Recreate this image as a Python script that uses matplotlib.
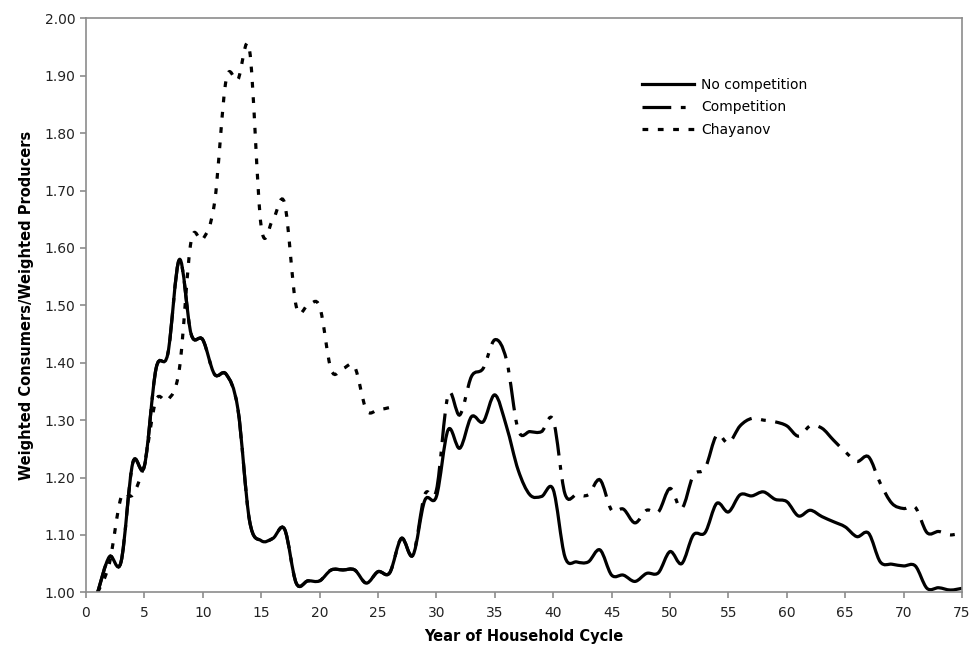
import matplotlib
matplotlib.use("Agg")
import matplotlib.pyplot as plt
import numpy as np
from matplotlib.path import Path
from matplotlib.patches import PathPatch
from matplotlib.lines import Line2D

# years of the household cycle
years = list(range(1, 76))

no_competition = [1.00, 1.062, 1.053, 1.225, 1.22, 1.39, 1.415, 1.58, 1.45, 1.44,
                  1.38, 1.38, 1.32, 1.125, 1.09, 1.094, 1.11, 1.016, 1.02, 1.02,
                  1.039, 1.039, 1.039, 1.016, 1.036, 1.034, 1.094, 1.065, 1.16, 1.167,
                  1.283, 1.251, 1.306, 1.297, 1.344, 1.289, 1.213, 1.17, 1.167, 1.179,
                  1.062, 1.053, 1.053, 1.074, 1.03, 1.03, 1.019, 1.033, 1.034, 1.071,
                  1.05, 1.10, 1.104, 1.155, 1.14, 1.17, 1.168, 1.175, 1.162, 1.158,
                  1.133, 1.143, 1.132, 1.123, 1.114, 1.097, 1.103, 1.053, 1.049, 1.046,
                  1.046, 1.007, 1.008, 1.004, 1.007]

competition = [1.00, 1.062, 1.053, 1.225, 1.22, 1.39, 1.415, 1.58, 1.45, 1.44,
               1.38, 1.38, 1.32, 1.125, 1.09, 1.094, 1.11, 1.016, 1.02, 1.02,
               1.039, 1.039, 1.039, 1.016, 1.036, 1.034, 1.094, 1.065, 1.17, 1.178,
               1.344, 1.309, 1.376, 1.39, 1.44, 1.405, 1.283, 1.28, 1.28, 1.30,
               1.172, 1.17, 1.17, 1.196, 1.143, 1.145, 1.121, 1.143, 1.14, 1.181,
               1.146, 1.204, 1.216, 1.274, 1.26, 1.29, 1.303, 1.30, 1.297, 1.29,
               1.272, 1.29, 1.286, 1.265, 1.245, 1.228, 1.236, 1.19, 1.155, 1.146,
               1.148, 1.104, 1.106, 1.10, 1.104]

chayanov_years = list(range(1, 27))
chayanov = [1.00, 1.05, 1.165, 1.17, 1.225, 1.335, 1.335, 1.39, 1.612, 1.615,
            1.678, 1.893, 1.893, 1.945, 1.637, 1.649, 1.678, 1.498, 1.50, 1.498,
            1.387, 1.39, 1.393, 1.318, 1.318, 1.322]


def smooth_path(x, y):
    # excel-like smoothed line: cubic bezier through the points
    x = np.asarray(x, float)
    y = np.asarray(y, float)
    n = len(x)
    verts = [(x[0], y[0])]
    codes = [Path.MOVETO]
    for i in range(n - 1):
        a = max(i - 1, 0)
        b = min(i + 2, n - 1)
        c1 = (x[i] + (x[i + 1] - x[a]) / 6, y[i] + (y[i + 1] - y[a]) / 6)
        c2 = (x[i + 1] - (x[b] - x[i]) / 6, y[i + 1] - (y[b] - y[i]) / 6)
        verts += [c1, c2, (x[i + 1], y[i + 1])]
        codes += [Path.CURVE4] * 3
    return Path(verts, codes)


fig = plt.figure(figsize=(9.75, 6.54), dpi=100)
ax = fig.add_axes([0.0882, 0.0943, 0.8985, 0.8777])

lw = 2.3
dash_comp = (0, (9, 3, 1.5, 3))
dash_chay = (0, (1.8, 3.0))

ax.add_patch(PathPatch(smooth_path(years, competition), fill=False, color='black',
                       lw=lw, linestyle=dash_comp, capstyle='butt'))
ax.add_patch(PathPatch(smooth_path(chayanov_years, chayanov), fill=False, color='black',
                       lw=lw, linestyle=dash_chay, capstyle='butt'))
ax.add_patch(PathPatch(smooth_path(years, no_competition), fill=False, color='black',
                       lw=lw, linestyle='-', joinstyle='round'))

ax.set_xlim(0, 75)
ax.set_ylim(1.0, 2.0)
ax.set_xticks(np.arange(0, 76, 5))
ax.set_yticks(np.arange(1.0, 2.001, 0.1))
ax.yaxis.set_major_formatter(matplotlib.ticker.FormatStrFormatter('%.2f'))
for s in ax.spines.values():
    s.set_color('#8c8c8c')
    s.set_linewidth(1.2)
ax.tick_params(colors='#8c8c8c', labelcolor='#222222', labelsize=10, length=4, width=1.2)
ax.tick_params(axis='x', pad=6)

ax.set_xlabel('Year of Household Cycle', fontsize=10.5, fontweight='bold', labelpad=6)
ax.set_ylabel('Weighted Consumers/Weighted Producers', fontsize=10.5, fontweight='bold', labelpad=8)

handles = [Line2D([], [], color='black', lw=lw, linestyle='-'),
           Line2D([], [], color='black', lw=lw, linestyle=dash_comp),
           Line2D([], [], color='black', lw=lw, linestyle=dash_chay)]
ax.legend(handles, ['No competition', 'Competition', 'Chayanov'], loc='upper left',
          bbox_to_anchor=(0.62, 0.918), frameon=False, fontsize=10,
          handlelength=3.8, handletextpad=0.5, labelspacing=0.62)

fig.savefig('out.png', dpi=100)
